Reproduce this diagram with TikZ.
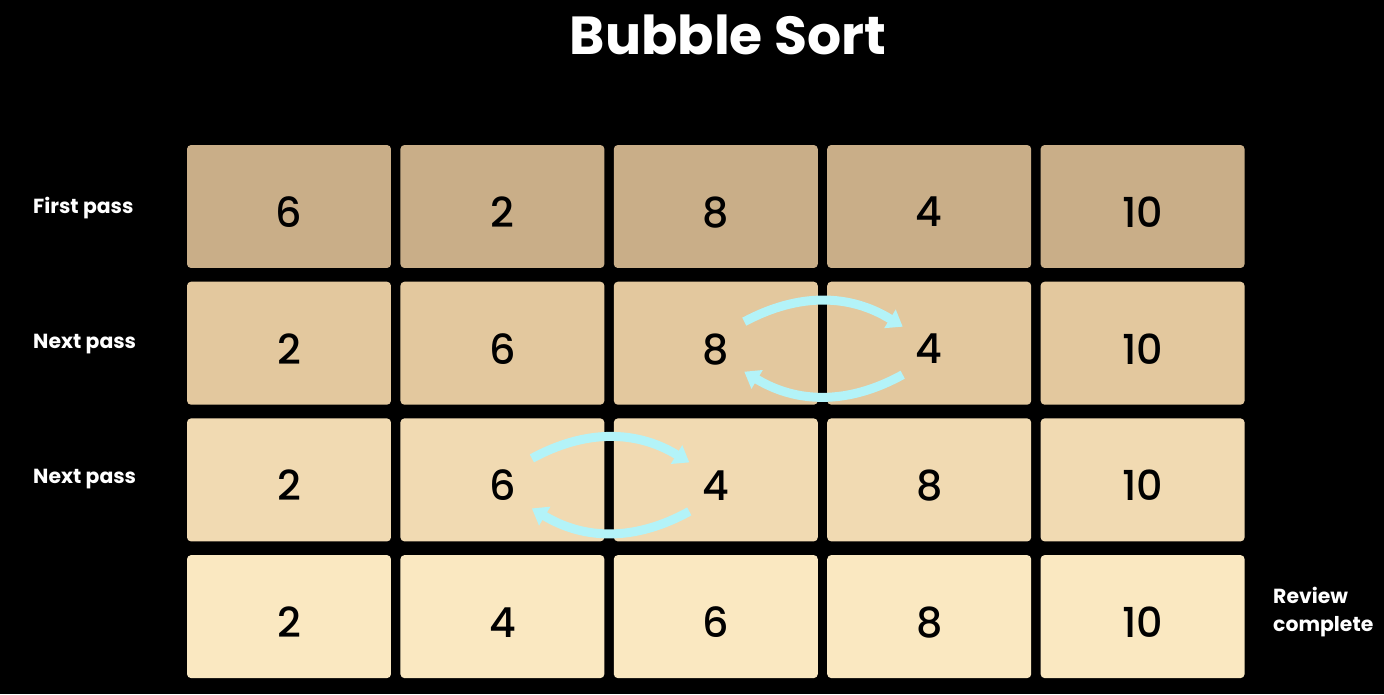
\documentclass[tikz,border=0pt]{standalone}
\usepackage{fontspec}
\setmainfont{Poppins}
\newfontfamily\numfont{Poppins Medium}
\usetikzlibrary{arrows.meta}
\definecolor{passA}{HTML}{C9AE88}
\definecolor{passB}{HTML}{E3C89E}
\definecolor{passC}{HTML}{F1DAB2}
\definecolor{passD}{HTML}{FAE8C1}
\definecolor{swapcol}{HTML}{B3F3F8}
\tikzset{
  cell/.style={rounded corners=0.08cm, minimum width=4.08cm, minimum height=2.46cm,
    inner sep=0pt, text=black, font=\numfont\fontsize{23.5}{26}\selectfont},
  passlabel/.style={anchor=west, text=white, font=\bfseries\fontsize{11.6}{13}\selectfont},
  swaparrow/.style={swapcol, line width=0.18cm, -{Triangle[width=0.42cm,length=0.3cm]}}
}
\begin{document}
\begin{tikzpicture}[x=0.02cm, y=-0.02cm]
        \fill[black] (0,0) rectangle (1384,694);
        \useasboundingbox (0,0) rectangle (1384,694);

        \node[text=white, font=\bfseries\fontsize{30.5}{34}\selectfont] (title) at (728,35) {Bubble Sort};

        % rows of the sort
        \foreach \r/\vals/\shade in {1/{6,2,8,4,10}/passA, 2/{2,6,8,4,10}/passB, 3/{2,6,4,8,10}/passC, 4/{2,4,6,8,10}/passD}
          \foreach \v [count=\c] in \vals
            \node[cell, fill=\shade] (c-\r-\c) at ({289+(\c-1)*213.4}, {206.5+(\r-1)*136.7}) {\raisebox{-3.2pt}[\height][0pt]{\v}};

        \node[passlabel] (lab1) at (27,208) {First pass};
        \node[passlabel] (lab2) at (27,344) {Next pass};
        \node[passlabel] (lab3) at (27,479) {Next pass};
        \node[passlabel, align=left, font=\bfseries\fontsize{11.6}{15.6}\selectfont] (lab4) at (1267,612) {Review\\complete};

        % swaps
        \draw[swaparrow] ([xshift=0.57cm, yshift=0.43cm]c-2-3.center) to[bend left=30] ([xshift=-0.53cm, yshift=0.33cm]c-2-4.center);
        \draw[swaparrow] ([xshift=-0.53cm, yshift=-0.63cm]c-2-4.center) to[bend left=30] ([xshift=0.57cm, yshift=-0.57cm]c-2-3.center);
        \draw[swaparrow] ([xshift=0.59cm, yshift=0.43cm]c-3-2.center) to[bend left=30] ([xshift=-0.53cm, yshift=0.35cm]c-3-3.center);
        \draw[swaparrow] ([xshift=-0.53cm, yshift=-0.63cm]c-3-3.center) to[bend left=30] ([xshift=0.59cm, yshift=-0.57cm]c-3-2.center);

      \end{tikzpicture}
\end{document}
